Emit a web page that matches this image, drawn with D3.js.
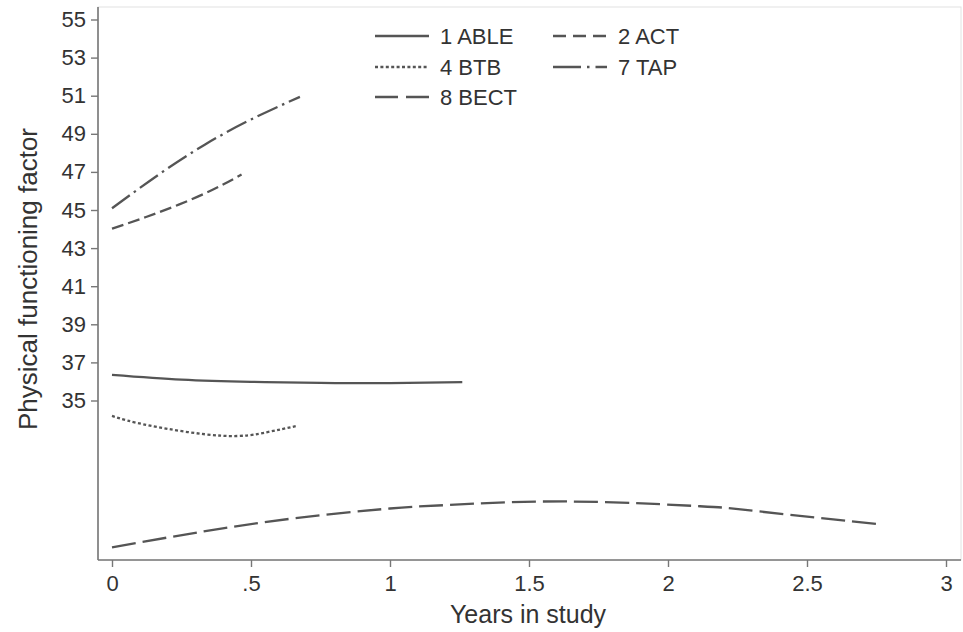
<!DOCTYPE html>
<html>
<head>
<meta charset="utf-8">
<script src="https://cdn.jsdelivr.net/npm/d3@7"></script>
<style>
  html, body { margin: 0; padding: 0; background: #ffffff; }
  svg { display: block; font-family: "Liberation Sans", Arial, Helvetica, sans-serif; }
</style>
</head>
<body>
<svg id="chart" width="963" height="632"></svg>
<script>
// ---- Data ----
const seriesNames = ["1 ABLE", "2 ACT", "4 BTB", "7 TAP", "8 BECT"];
const ableTime  = [0, 0.25, 0.5, 0.75, 1.0, 1.26];
const ableValue = [36.35, 36.10, 35.98, 35.92, 35.91, 35.96];
const actTime   = [0, 0.12, 0.24, 0.36, 0.466];
const actValue  = [44.02, 44.62, 45.28, 46.05, 46.86];
const btbTime   = [0, 0.137, 0.395, 0.556, 0.664];
const btbValue  = [34.19, 33.68, 33.15, 33.33, 33.66];
const tapTime   = [0, 0.17, 0.335, 0.5, 0.676];
const tapValue  = [45.09, 46.88, 48.44, 49.75, 50.94];
const bectTime  = [0, 0.33, 0.658, 1.0, 1.216, 1.635, 2.115, 2.295, 2.769];
const bectValue = [27.29, 28.13, 28.82, 29.33, 29.52, 29.70, 29.45, 29.23, 28.49];
const xTicks = [0, 0.5, 1, 1.5, 2, 2.5, 3];
const xTickLabels = ["0", ".5", "1", "1.5", "2", "2.5", "3"];
const yTicks = [35, 37, 39, 41, 43, 45, 47, 49, 51, 53, 55];

// ---- Styles ----
const seriesStyle = {
  "1 ABLE": { dash: null,            keyDash: null },
  "2 ACT":  { dash: "12,5",          keyDash: "13,7" },
  "4 BTB":  { dash: "3,2.4",         keyDash: "3,2.4" },
  "7 TAP":  { dash: "22,5,2.5,5",    keyDash: "28,6,2.5,6" },
  "8 BECT": { dash: "24,7",          keyDash: "23,8" }
};
const lineColor = "#555555";

const svg = d3.select("#chart");

const frame = { left: 98, right: 961, top: 7, bottom: 560 };
const x = d3.scaleLinear().domain([0, 3]).range([112, 946]);
const y = d3.scaleLinear().domain([35, 55]).range([400.5, 19.5]);

// plot region frame
svg.append("rect")
  .attr("x", frame.left).attr("y", frame.top)
  .attr("width", frame.right - frame.left).attr("height", frame.bottom - frame.top)
  .attr("fill", "#ffffff").attr("stroke", "#e2e2e2").attr("stroke-width", 1);

// y axis
const yAxis = d3.axisLeft(y).tickValues(yTicks).tickSize(7).tickPadding(5).tickFormat(d3.format("d"));
const gy = svg.append("g").attr("transform", `translate(${frame.left},0)`).call(yAxis);
gy.select(".domain").remove();
gy.append("line").attr("x1", 0).attr("x2", 0).attr("y1", frame.top).attr("y2", frame.bottom)
  .attr("stroke", "#777").attr("stroke-width", 1.6);
gy.selectAll(".tick line").attr("stroke", "#777").attr("stroke-width", 1.4);
gy.selectAll(".tick text").attr("fill", "#333").style("font-size", "22px")
  .style("font-family", "'Liberation Sans', Arial, sans-serif");

// x axis
const xAxis = d3.axisBottom(x).tickValues(xTicks).tickSize(7).tickPadding(8)
  .tickFormat((d, i) => xTickLabels[i]);
const gx = svg.append("g").attr("transform", `translate(0,${frame.bottom})`).call(xAxis);
gx.select(".domain").remove();
gx.append("line").attr("x1", frame.left).attr("x2", frame.right).attr("y1", 0).attr("y2", 0)
  .attr("stroke", "#777").attr("stroke-width", 1.6);
gx.selectAll(".tick line").attr("stroke", "#777").attr("stroke-width", 1.4);
gx.selectAll(".tick text").attr("fill", "#333").style("font-size", "22px")
  .style("font-family", "'Liberation Sans', Arial, sans-serif");

// axis titles
svg.append("text")
  .attr("x", 528).attr("y", 623)
  .attr("text-anchor", "middle")
  .attr("fill", "#333").style("font-size", "25px")
  .text("Years in study");
svg.append("text")
  .attr("transform", "translate(37,279) rotate(-90)")
  .attr("text-anchor", "middle")
  .attr("fill", "#333").style("font-size", "26px")
  .text("Physical functioning factor");

// lines
const series = [
  { name: "1 ABLE", t: ableTime, v: ableValue },
  { name: "2 ACT",  t: actTime,  v: actValue },
  { name: "4 BTB",  t: btbTime,  v: btbValue },
  { name: "7 TAP",  t: tapTime,  v: tapValue },
  { name: "8 BECT", t: bectTime, v: bectValue }
];
const line = d3.line().x(d => x(d[0])).y(d => y(d[1])).curve(d3.curveNatural);
svg.append("g").selectAll("path").data(series).join("path")
  .attr("d", s => line(s.t.map((t, i) => [t, s.v[i]])))
  .attr("fill", "none")
  .attr("stroke", lineColor)
  .attr("stroke-width", 2.3)
  .attr("stroke-dasharray", s => seriesStyle[s.name].dash);

// legend
const legendPos = {
  "1 ABLE": [375, 36], "2 ACT": [553, 36],
  "4 BTB": [375, 67], "7 TAP": [553, 67],
  "8 BECT": [375, 97]
};
const lg = svg.append("g");
seriesNames.forEach(n => {
  const [lx, ly] = legendPos[n];
  lg.append("line")
    .attr("x1", lx).attr("x2", lx + 54).attr("y1", ly).attr("y2", ly)
    .attr("stroke", lineColor).attr("stroke-width", 2.3)
    .attr("stroke-dasharray", seriesStyle[n].keyDash);
  lg.append("text")
    .attr("x", lx + 65).attr("y", ly).attr("dy", "0.36em")
    .attr("fill", "#333").style("font-size", "22px")
    .text(n);
});
</script>
</body>
</html>
